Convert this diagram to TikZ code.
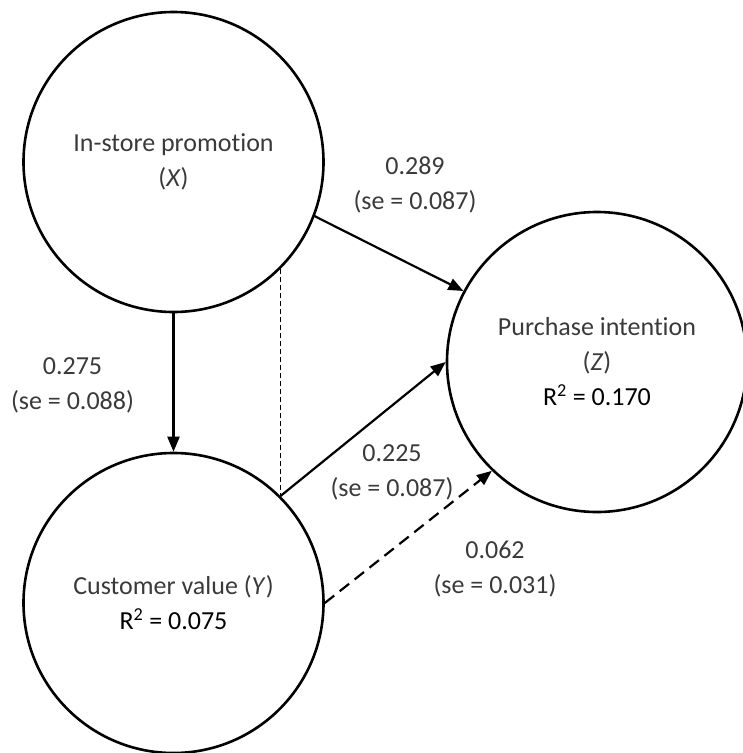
\documentclass[tikz,border=0pt]{standalone}
\usepackage{fontspec}
\setmainfont{Carlito}[Ligatures=NoCommon]
\usetikzlibrary{arrows.meta}
\definecolor{lightink}{RGB}{58,58,58}
\begin{document}
\begin{tikzpicture}[x=1pt,y=-1pt,
  latent/.style={circle,draw,line width=2.6pt,minimum size=300pt,inner sep=0pt,align=center,font=\fontsize{26}{35}\selectfont,text=lightink},
  pathline/.style={line width=2.2pt,-{Triangle[length=15pt,width=12pt]}},
  weakpath/.style={pathline,dash pattern=on 12pt off 7pt},
  corrline/.style={line width=1pt,dash pattern=on 5pt off 3pt},
  coef/.style={align=center,font=\fontsize{26}{35}\selectfont,text=lightink},
]
\useasboundingbox (0,0) rectangle (743,753);
\node[latent] (X) at (173.5,162) {In-store promotion\\(\textit{X})};
\node[latent] (Y) at (173.5,603) {Customer value (\textit{Y})\\{\color{black}R\textsuperscript{2} = 0.075}};
\node[latent] (Z) at (597,362) {Purchase intention\\(\textit{Z})\\{\color{black}R\textsuperscript{2} = 0.170}};
\draw[pathline] (X) -- (Y);
\draw[pathline] (X.-21.5) -- (Z.152);
\draw[pathline] (Y.45) -- (Z.180);
\draw[weakpath] (Y.0) -- (Z.226);
\draw[corrline] (X.-45) -- (Y.45);
\node[coef] (l1) at (415,184.5) {0.289\\(se = 0.087)};
\node[coef] (l2) at (72.5,385) {0.275\\(se = 0.088)};
\node[coef] (l3) at (392,472.5) {0.225\\(se = 0.087)};
\node[coef] (l4) at (495,569.5) {0.062\\(se = 0.031)};
\end{tikzpicture}
\end{document}
